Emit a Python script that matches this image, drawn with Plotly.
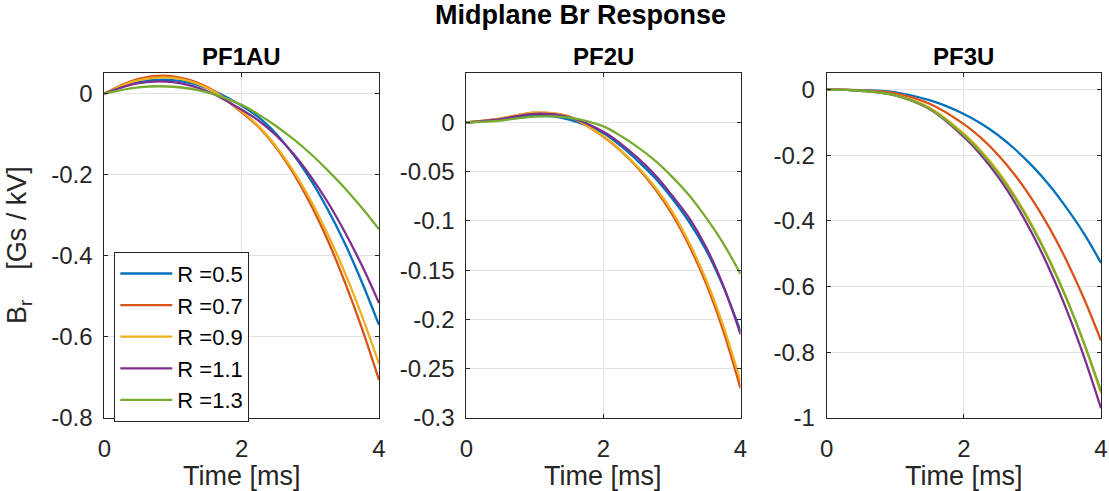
import plotly.graph_objects as go

# ---------------- data ----------------
time_ms = [0, 0.5, 1.0, 1.5, 2.0, 2.25, 2.5, 2.75, 3.0, 3.25, 3.5, 3.75, 4.0]
radii = ["0.5", "0.7", "0.9", "1.1", "1.3"]
panel_titles = ["PF1AU", "PF2U", "PF3U"]

pf1au_r05 = [0, 0.028, 0.033, 0.013, -0.030, -0.059, -0.099, -0.150, -0.212, -0.285, -0.369, -0.465, -0.571]
pf1au_r07 = [0, 0.0363, 0.0425, 0.0159, -0.0464, -0.083, -0.133, -0.196, -0.272, -0.361, -0.464, -0.579, -0.707]
pf1au_r09 = [0, 0.033, 0.0387, 0.0141, -0.0440, -0.081, -0.130, -0.190, -0.262, -0.346, -0.441, -0.548, -0.667]
pf1au_r11 = [0, 0.0257, 0.0281, 0.0058, -0.0400, -0.067, -0.103, -0.148, -0.203, -0.267, -0.341, -0.424, -0.517]
pf1au_r13 = [0, 0.0154, 0.0168, 0.0031, -0.0280, -0.052, -0.080, -0.112, -0.148, -0.189, -0.233, -0.282, -0.335]

pf2u_r05 = [0, 0.003, 0.0072, 0.003, -0.011, -0.0236, -0.039, -0.0561, -0.077, -0.101, -0.130, -0.167, -0.212]
pf2u_r07 = [0, 0.004, 0.0100, 0.006, -0.0145, -0.0287, -0.046, -0.0672, -0.093, -0.125, -0.164, -0.212, -0.270]
pf2u_r09 = [0, 0.004, 0.0100, 0.006, -0.0140, -0.028, -0.045, -0.0653, -0.090, -0.122, -0.160, -0.207, -0.263]
pf2u_r11 = [0, 0.0035, 0.0088, 0.0055, -0.0095, -0.0214, -0.036, -0.0531, -0.074, -0.097, -0.127, -0.166, -0.215]
pf2u_r13 = [0, 0.002, 0.006, 0.005, -0.004, -0.0135, -0.025, -0.0385, -0.055, -0.074, -0.097, -0.123, -0.154]

pf3u_r05 = [0, -0.0015, -0.008, -0.032, -0.074, -0.1033, -0.139, -0.1823, -0.233, -0.292, -0.361, -0.438, -0.528]
pf3u_r07 = [0, -0.002, -0.011, -0.043, -0.105, -0.1472, -0.199, -0.2616, -0.336, -0.422, -0.522, -0.636, -0.765]
pf3u_r09 = [0, -0.0028, -0.016, -0.055, -0.134, -0.1861, -0.2495, -0.3256, -0.415, -0.519, -0.637, -0.773, -0.925]
pf3u_r11 = [0, -0.0032, -0.017, -0.059, -0.144, -0.1992, -0.266, -0.3461, -0.440, -0.548, -0.672, -0.813, -0.971]
pf3u_r13 = [0, -0.0032, -0.017, -0.058, -0.139, -0.1916, -0.255, -0.3311, -0.420, -0.522, -0.639, -0.771, -0.919]

x_tickvals = [0, 2, 4]
x_ticktext = ["0", "2", "4"]
y1_tickvals = [0, -0.2, -0.4, -0.6, -0.8]
y1_ticktext = ["0", "-0.2", "-0.4", "-0.6", "-0.8"]
y2_tickvals = [0, -0.05, -0.1, -0.15, -0.2, -0.25, -0.3]
y2_ticktext = ["0", "-0.05", "-0.1", "-0.15", "-0.2", "-0.25", "-0.3"]
y3_tickvals = [0, -0.2, -0.4, -0.6, -0.8, -1]
y3_ticktext = ["0", "-0.2", "-0.4", "-0.6", "-0.8", "-1"]

panels = [
    [pf1au_r05, pf1au_r07, pf1au_r09, pf1au_r11, pf1au_r13],
    [pf2u_r05, pf2u_r07, pf2u_r09, pf2u_r11, pf2u_r13],
    [pf3u_r05, pf3u_r07, pf3u_r09, pf3u_r11, pf3u_r13],
]
y_ticks = [(y1_tickvals, y1_ticktext), (y2_tickvals, y2_ticktext), (y3_tickvals, y3_ticktext)]
y_ranges = [[-0.8, 0.05], [-0.3, 0.05], [-1.0, 0.05]]

# ---------------- style ----------------
W, H = 1109, 491
colors = ["#0072BD", "#D95319", "#EDB120", "#7E2F8E", "#77AC30"]
FONT = "Liberation Sans, Arial, Helvetica, sans-serif"
AX = "#262626"
GRID = "#E3E3E3"
TICK_SIZE = 24
LABEL_SIZE = 27

px_left = [104.3, 466.3, 826.7]
px_right = [379.0, 740.5, 1101.0]
px_top, px_bot = 73.3, 417.7
ydom = [1 - px_bot / H, 1 - px_top / H]

fig = go.Figure()
for p, series in enumerate(panels):
    sfx = "" if p == 0 else str(p + 1)
    for k, vals in enumerate(series):
        fig.add_trace(go.Scatter(
            x=time_ms, y=vals, mode="lines",
            name="R =" + radii[k],
            line=dict(color=colors[k], width=2.3, shape="spline", smoothing=1.0),
            xaxis="x" + sfx, yaxis="y" + sfx,
            showlegend=(p == 0), hoverinfo="skip",
        ))

layout = dict(
    width=W, height=H, autosize=False,
    margin=dict(l=0, r=0, t=0, b=0, pad=0, autoexpand=False),
    paper_bgcolor="white", plot_bgcolor="white",
    font=dict(family=FONT, color=AX, size=TICK_SIZE),
    legend=dict(
        x=114.3 / W, y=1 - 251.7 / H, xanchor="left", yanchor="top",
        bgcolor="white", bordercolor=AX, borderwidth=1,
        font=dict(size=22, color="black", family=FONT),
        tracegroupgap=0, itemwidth=52,
    ),
    annotations=[],
)

for p in range(3):
    sfx = "" if p == 0 else str(p + 1)
    layout["xaxis" + sfx] = dict(
        domain=[px_left[p] / W, px_right[p] / W], anchor="y" + sfx,
        range=[0, 4], tickvals=x_tickvals, ticktext=x_ticktext,
        showgrid=True, gridcolor=GRID, gridwidth=1,
        showline=True, linecolor=AX, linewidth=1, mirror="allticks",
        ticks="inside", ticklen=4, tickcolor=AX,
        zeroline=False, ticklabelstandoff=9,
        tickfont=dict(size=TICK_SIZE, color=AX, family=FONT),
    )
    layout["yaxis" + sfx] = dict(
        domain=ydom, anchor="x" + sfx,
        range=y_ranges[p], tickvals=y_ticks[p][0], ticktext=y_ticks[p][1],
        showgrid=True, gridcolor=GRID, gridwidth=1,
        showline=True, linecolor=AX, linewidth=1, mirror="allticks",
        ticks="inside", ticklen=4, tickcolor=AX,
        zeroline=False, ticklabelstandoff=6,
        tickfont=dict(size=TICK_SIZE, color=AX, family=FONT),
    )
    cx = (px_left[p] + px_right[p]) / 2 / W
    layout["annotations"].append(dict(
        text="<b>" + panel_titles[p] + "</b>", x=cx, y=1 - 56 / H,
        xref="paper", yref="paper", xanchor="center", yanchor="middle",
        showarrow=False, font=dict(size=24, color="black", family=FONT),
    ))
    layout["annotations"].append(dict(
        text="Time [ms]", x=cx, y=1 - 476 / H,
        xref="paper", yref="paper", xanchor="center", yanchor="middle",
        showarrow=False, font=dict(size=LABEL_SIZE, color=AX, family=FONT),
    ))

layout["annotations"].append(dict(
    text="<b>Midplane Br Response</b>", x=580 / W, y=1 - 15 / H,
    xref="paper", yref="paper", xanchor="center", yanchor="middle",
    showarrow=False, font=dict(size=27, color="black", family=FONT),
))
layout["annotations"].append(dict(
    text="B<sub>r</sub>\u00a0\u00a0\u00a0\u00a0[Gs / kV]", x=19 / W, y=1 - 245 / H,
    xref="paper", yref="paper", xanchor="center", yanchor="middle",
    textangle=-90, showarrow=False, font=dict(size=LABEL_SIZE, color=AX, family=FONT),
))

fig.update_layout(**layout)
fig.write_html("out.html")
